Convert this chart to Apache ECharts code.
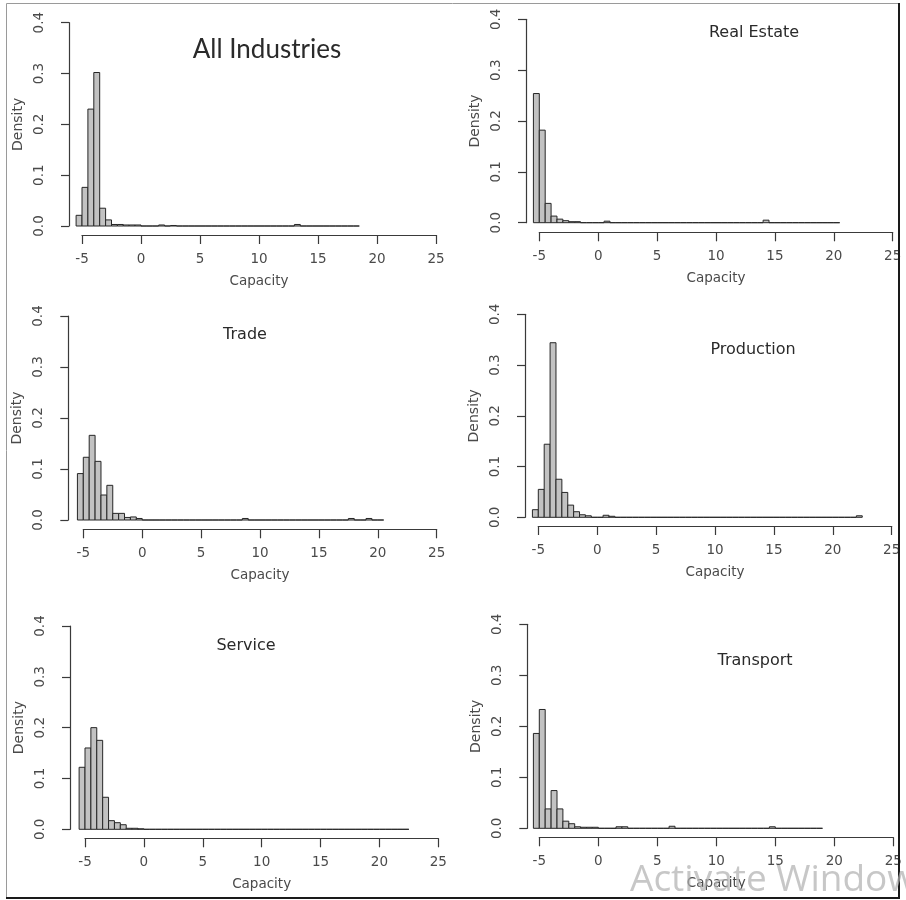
<!DOCTYPE html>
<html>
<head>
<meta charset="utf-8">
<title>Capacity density by industry</title>
<script src="https://cdn.jsdelivr.net/npm/echarts@6/dist/echarts.min.js"></script>
<style>
  html, body { margin: 0; padding: 0; background: #ffffff; }
  #chart { width: 906px; height: 900px; }
</style>
</head>
<body>
<div id="chart"></div>
<script>
// Histogram densities (bin width 0.5, first break at -5.5)
const binWidth = 0.5;
const binStart = -5.5;

const allIndustries = [0.021, 0.076, 0.230, 0.302, 0.035, 0.012, 0.003, 0.003, 0.002, 0.002, 0.002,
  0, 0, 0, 0.002, 0, 0.001,
  0, 0, 0, 0, 0, 0, 0, 0, 0, 0, 0, 0, 0, 0, 0, 0, 0, 0, 0, 0,
  0.003,
  0, 0, 0, 0, 0, 0, 0, 0, 0, 0];

const realEstate = [0.254, 0.182, 0.038, 0.013, 0.007, 0.004, 0.002, 0.002,
  0, 0, 0, 0,
  0.003,
  0, 0, 0, 0, 0, 0, 0, 0, 0, 0, 0, 0, 0, 0, 0, 0, 0, 0, 0, 0, 0, 0, 0, 0, 0, 0,
  0.005,
  0, 0, 0, 0, 0, 0, 0, 0, 0, 0, 0, 0];

const trade = [0.091, 0.123, 0.166, 0.115, 0.049, 0.068, 0.013, 0.013, 0.005, 0.006, 0.003,
  0, 0, 0, 0, 0, 0, 0, 0, 0, 0, 0, 0, 0, 0, 0, 0, 0,
  0.003,
  0, 0, 0, 0, 0, 0, 0, 0, 0, 0, 0, 0, 0, 0, 0, 0, 0,
  0.003,
  0, 0,
  0.003,
  0, 0];

const production = [0.015, 0.055, 0.144, 0.344, 0.075, 0.049, 0.024, 0.011, 0.005, 0.003,
  0, 0, 0.004, 0.002,
  0, 0, 0, 0, 0, 0, 0, 0, 0, 0, 0, 0, 0, 0, 0, 0, 0, 0, 0, 0,
  0, 0, 0, 0, 0, 0, 0, 0, 0, 0, 0, 0, 0, 0, 0, 0, 0, 0, 0, 0, 0,
  0.003];

const service = [0.122, 0.160, 0.200, 0.175, 0.063, 0.017, 0.013, 0.009, 0.002, 0.002, 0.001,
  0, 0, 0, 0, 0, 0, 0, 0, 0, 0, 0, 0, 0, 0, 0, 0, 0, 0, 0, 0, 0, 0,
  0, 0, 0, 0, 0, 0, 0, 0, 0, 0, 0, 0, 0, 0, 0, 0, 0, 0, 0, 0, 0, 0, 0];

const transport = [0.186, 0.233, 0.038, 0.074, 0.038, 0.014, 0.009, 0.003, 0.002, 0.002, 0.002,
  0, 0, 0,
  0.003, 0.003,
  0, 0, 0, 0, 0, 0, 0,
  0.004,
  0, 0, 0, 0, 0, 0, 0, 0, 0, 0, 0, 0, 0, 0, 0, 0,
  0.003,
  0, 0, 0, 0, 0, 0, 0, 0];

const panelTitles = ['All Industries', 'Real Estate', 'Trade', 'Production', 'Service', 'Transport'];
const panelData = [allIndustries, realEstate, trade, production, service, transport];

const xTicks = [-5, 0, 5, 10, 15, 20, 25];
const yTicks = [0.0, 0.1, 0.2, 0.3, 0.4];
const xTitle = 'Capacity';
const yTitle = 'Density';

// Panel layout in pixels: x of first/last x tick, y of top/bottom y tick,
// where the y-axis line sits, where the x-axis line sits, title centre.
const layout = [
  { x0: 82,    x1: 436,   yTop: 22.7,  yBase: 226,   axisX: 69,    axisY: 235,   tx: 267, ty: 50 },
  { x0: 539.3, x1: 892.7, yTop: 19.3,  yBase: 222.7, axisX: 526,   axisY: 232.3, tx: 754, ty: 33 },
  { x0: 83.3,  x1: 436.7, yTop: 316,   yBase: 520,   axisX: 68.3,  axisY: 529.3, tx: 245, ty: 335 },
  { x0: 538.3, x1: 891.7, yTop: 314.3, yBase: 517.3, axisX: 525,   axisY: 526,   tx: 753, ty: 350 },
  { x0: 85,    x1: 438.3, yTop: 626,   yBase: 829.3, axisX: 70,    axisY: 838.3, tx: 246, ty: 646 },
  { x0: 539.3, x1: 893.3, yTop: 624.3, yBase: 828.3, axisX: 527.3, axisY: 837.3, tx: 755, ty: 661 }
];

const axisColor = '#3a3a3a';
const textColor = '#4a4a4a';
const tickFont = 'DejaVu Sans';

function binsOf(values) {
  return values.map((h, i) => [binStart + i * binWidth, binStart + (i + 1) * binWidth, h]);
}

const grids = [], xAxes = [], yAxes = [], series = [], graphics = [];

layout.forEach((p, k) => {
  grids.push({
    left: p.x0, top: p.yTop,
    width: p.x1 - p.x0, height: p.yBase - p.yTop,
    containLabel: false
  });
  xAxes.push({
    type: 'value', gridIndex: k, position: 'bottom',
    min: xTicks[0], max: xTicks[xTicks.length - 1], interval: 5,
    offset: p.axisY - p.yBase,
    name: xTitle, nameLocation: 'middle', nameGap: 39,
    nameTextStyle: { color: textColor, fontSize: 13.5, fontFamily: tickFont },
    axisLine: { show: true, onZero: false, lineStyle: { color: axisColor, width: 1.2 } },
    axisTick: { show: true, length: 9, lineStyle: { color: axisColor, width: 1.2 } },
    axisLabel: { color: textColor, fontSize: 13.5, fontFamily: tickFont, margin: 17 },
    splitLine: { show: false }
  });
  yAxes.push({
    type: 'value', gridIndex: k, position: 'left',
    min: yTicks[0], max: yTicks[yTicks.length - 1], interval: 0.1,
    offset: p.x0 - p.axisX,
    name: yTitle, nameLocation: 'middle', nameGap: 44,
    nameTextStyle: { color: textColor, fontSize: 14, fontFamily: tickFont },
    axisLine: { show: true, onZero: false, lineStyle: { color: axisColor, width: 1.2 } },
    axisTick: { show: true, length: 8, lineStyle: { color: axisColor, width: 1.2 } },
    axisLabel: {
      color: textColor, fontSize: 13.5, fontFamily: tickFont, rotate: 90, margin: 23,
      formatter: v => v.toFixed(1)
    },
    splitLine: { show: false }
  });
  series.push({
    type: 'custom', xAxisIndex: k, yAxisIndex: k, clip: false,
    data: binsOf(panelData[k]),
    renderItem: (params, api) => {
      const topLeft = api.coord([api.value(0), api.value(2)]);
      const bottomRight = api.coord([api.value(1), 0]);
      return {
        type: 'rect',
        shape: {
          x: topLeft[0], y: topLeft[1],
          width: bottomRight[0] - topLeft[0],
          height: bottomRight[1] - topLeft[1]
        },
        style: { fill: '#c2c2c2', stroke: '#262626', lineWidth: 1 }
      };
    }
  });
  graphics.push({
    type: 'text', x: p.tx, y: p.ty, z: 10,
    style: {
      text: panelTitles[k],
      align: 'center', verticalAlign: 'middle',
      fill: '#2a2a2a',
      font: k === 0 ? '26px Lato' : '16px "DejaVu Sans"'
    }
  });
});

// Outer frame
graphics.push({
  type: 'rect', z: 5, silent: true,
  shape: { x: 6.5, y: 3.5, width: 892, height: 894 },
  style: { fill: 'none', stroke: '#9a9a9a', lineWidth: 1 }
});
graphics.push({
  type: 'polyline', z: 6, silent: true,
  shape: { points: [[899, 3], [899, 898], [6, 898]] },
  style: { fill: 'none', stroke: '#1a1a1a', lineWidth: 2 }
});
// Overlay text in the lower right corner
graphics.push({
  type: 'text', x: 630, y: 899, z: 20, silent: true,
  style: {
    text: 'Activate Windows',
    align: 'left', verticalAlign: 'bottom',
    fill: 'rgba(175,175,175,0.7)',
    font: '37px "Open Sans"'
  }
});

const chart = echarts.init(document.getElementById('chart'), null, { renderer: 'canvas' });
chart.setOption({
  backgroundColor: '#ffffff',
  animation: false,
  grid: grids,
  xAxis: xAxes,
  yAxis: yAxes,
  series: series,
  graphic: { elements: graphics }
});
</script>
</body>
</html>
